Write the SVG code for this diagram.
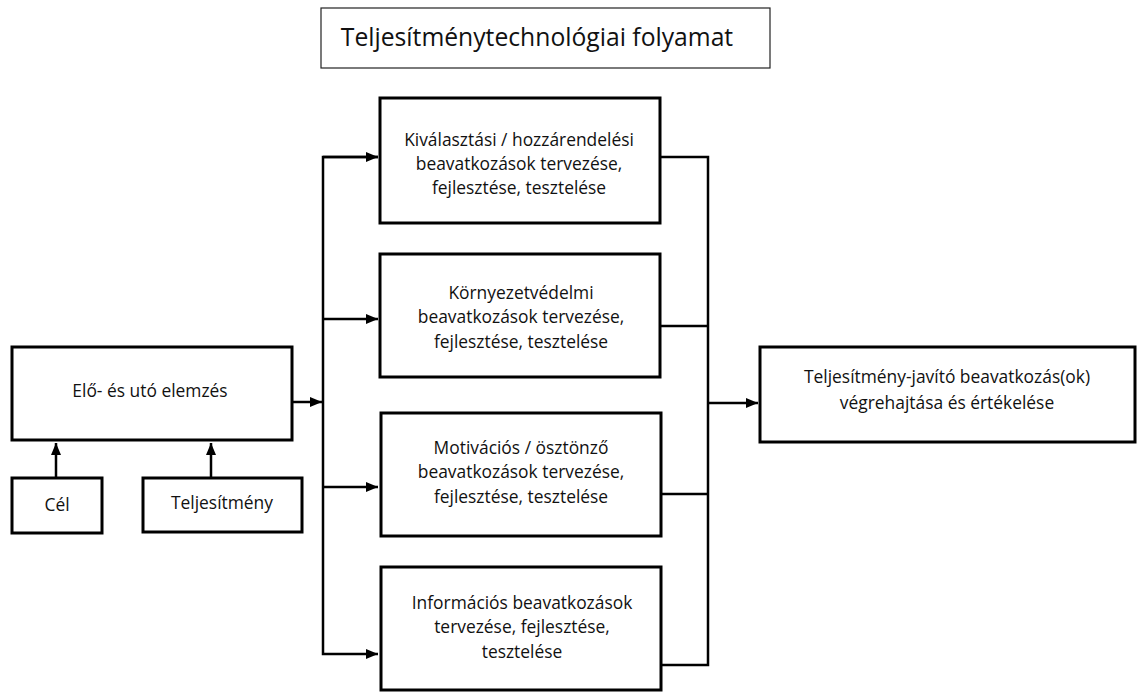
<svg xmlns="http://www.w3.org/2000/svg" width="1137" height="693" viewBox="0 0 1137 693">
<style>
.box{fill:#fff;stroke:#000;stroke-width:3}
.t{font-family:"Open Sans","Noto Sans","Liberation Sans",sans-serif;font-size:17.4px;fill:#111;text-anchor:middle}
.c{fill:none;stroke:#000;stroke-width:2.5}
</style>
<defs>
<marker id="ah" viewBox="0 0 12 10" refX="12" refY="5" markerWidth="12" markerHeight="10" markerUnits="userSpaceOnUse" orient="auto">
<path d="M0,0 L12,5 L0,10 z" fill="#000"/>
</marker>
</defs>
<rect width="1137" height="693" fill="#fff"/>
<g id="title">
<rect x="321" y="8" width="449" height="60" fill="#fff" stroke="#222" stroke-width="1.2"/>
<text x="537" y="46" class="t" style="font-size:24.7px">Teljesítménytechnológiai folyamat</text>
</g>
<g id="connectors">
<line class="c" x1="56" y1="478" x2="56" y2="443" marker-end="url(#ah)"/>
<line class="c" x1="211" y1="478" x2="211" y2="443" marker-end="url(#ah)"/>
<line class="c" x1="292" y1="402" x2="322" y2="402" marker-end="url(#ah)"/>
<polyline class="c" points="378,157 323,157 323,654 378,654" marker-end="url(#ah)"/>
<line class="c" x1="323" y1="157" x2="378" y2="157" marker-end="url(#ah)"/>
<line class="c" x1="323" y1="319" x2="378" y2="319" marker-end="url(#ah)"/>
<line class="c" x1="323" y1="487" x2="378" y2="487" marker-end="url(#ah)"/>
<polyline class="c" points="660,157 708,157 708,665 661,665"/>
<line class="c" x1="660" y1="326" x2="708" y2="326"/>
<line class="c" x1="661" y1="494" x2="708" y2="494"/>
<line class="c" x1="708" y1="403" x2="758" y2="403" marker-end="url(#ah)"/>
</g>
<g id="elemzes">
<rect class="box" x="12" y="347" width="280" height="93"/>
<text class="t" x="150" y="397">Elő- és utó elemzés</text>
</g>
<g id="cel">
<rect class="box" x="12" y="478" width="90" height="55"/>
<text class="t" x="57" y="511">Cél</text>
</g>
<g id="teljesitmeny">
<rect class="box" x="143" y="478" width="159" height="54"/>
<text class="t" x="222" y="509">Teljesítmény</text>
</g>
<g id="kivalasztasi">
<rect class="box" x="380" y="98" width="280" height="125"/>
<text class="t" x="519" y="146">Kiválasztási / hozzárendelési</text>
<text class="t" x="519" y="170">beavatkozások tervezése,</text>
<text class="t" x="519" y="194">fejlesztése, tesztelése</text>
</g>
<g id="kornyezet">
<rect class="box" x="380" y="254" width="280" height="123"/>
<text class="t" x="521" y="299">Környezetvédelmi</text>
<text class="t" x="521" y="323">beavatkozások tervezése,</text>
<text class="t" x="521" y="348">fejlesztése, tesztelése</text>
</g>
<g id="motivacios">
<rect class="box" x="381" y="413" width="280" height="123"/>
<text class="t" x="521" y="454">Motivációs / ösztönző</text>
<text class="t" x="521" y="478">beavatkozások tervezése,</text>
<text class="t" x="521" y="503">fejlesztése, tesztelése</text>
</g>
<g id="informacios">
<rect class="box" x="381" y="567" width="280" height="123"/>
<text class="t" x="522" y="609">Információs beavatkozások</text>
<text class="t" x="522" y="633">tervezése, fejlesztése,</text>
<text class="t" x="522" y="658">tesztelése</text>
</g>
<g id="vegrehajtas">
<rect class="box" x="760" y="347" width="375" height="95"/>
<text class="t" x="947" y="383">Teljesítmény-javító beavatkozás(ok)</text>
<text class="t" x="947" y="409">végrehajtása és értékelése</text>
</g>
</svg>
